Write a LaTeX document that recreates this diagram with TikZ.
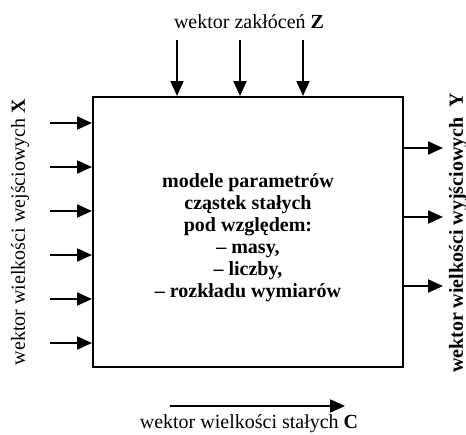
\documentclass[tikz,border=0pt]{standalone}
\usepackage{fontspec}
\setmainfont{Liberation Serif}
\usetikzlibrary{arrows.meta,positioning}

\tikzset{
  strzalka/.style={line width=2pt,-{Triangle[length=15pt,width=13pt]}},
  blok/.style={draw,line width=2pt,minimum width=310pt,minimum height=270pt,inner sep=0pt},
  opis/.style={font=\fontsize{20}{22}\selectfont,inner sep=0pt},
}

\begin{document}
\begin{tikzpicture}[x=1pt,y=-1pt]
  \useasboundingbox (0,0) rectangle (466,434);

  \node[blok] (model) at (248,232) {};
  \node[opis,align=center,font=\fontsize{20}{22}\selectfont\bfseries] (tekst) at (248,238)
    {modele parametrów\\cząstek stałych\\pod względem:\\– masy,\\– liczby,\\– rozkładu wymiarów};

  % wejscia X
  \foreach \y [count=\i] in {123,167,211,255,299,343}{
    \coordinate (x\i) at (50,\y);
    \draw[strzalka] (x\i) -- (x\i -| model.west);
  }
  % zaklocenia Z
  \foreach \x [count=\i] in {177,240,303}{
    \coordinate (z\i) at (\x,40);
    \draw[strzalka] (z\i) -- (z\i |- model.north);
  }
  % wyjscia Y
  \foreach \y [count=\i] in {148,217,286}{
    \coordinate (y\i) at (443,\y);
    \draw[strzalka] (y\i -| model.east) -- (y\i);
  }
  % stale C
  \coordinate (c1) at (170,406);
  \coordinate (c2) at (345,406);
  \draw[strzalka] (c1) -- (c2);

  \node[opis] (etZ) at (249,22) {wektor zakłóceń \textbf{Z}};
  \node[opis] (etC) at (249,424) {wektor wielkości stałych \textbf{C}};
  \node[opis,rotate=90] (etX) at (20,232) {wektor wielkości wejściowych \textbf{X}};
  \node[opis,rotate=90,font=\fontsize{20}{22}\selectfont\bfseries] (etY) at (458,233) {wektor wielkości wyjściowych\ \ Y};
\end{tikzpicture}
\end{document}
